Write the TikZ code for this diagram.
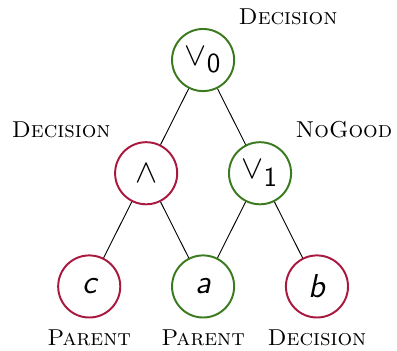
\documentclass[tikz,border=0pt]{standalone}
\usepackage{amsmath}
\usepackage{amssymb}
\usetikzlibrary{positioning}

\definecolor{orgreen}{HTML}{3B7A1E}
\definecolor{andred}{HTML}{A8183F}

\begin{document}
\begin{tikzpicture}[
    x=0.87cm, y=1.73cm,
    every node/.style={align=center},
    vertex/.style={circle, draw, line width=0.85pt, minimum size=27pt, inner sep=0pt, font=\Large\sffamily},
    ornode/.style={vertex, draw=orgreen},
    andnode/.style={vertex, draw=andred},
    tag/.style={font=\normalsize},
    every label/.style={tag},
    label distance=3pt,
    leaflabel/.style={label={[label distance=1.2pt]below:\textsc{#1}}}
]
\useasboundingbox (-88.3pt,-126.1pt) rectangle (84.3pt,26.1pt);

% Top
\node[ornode, label={above right:\textsc{Decision}}] (or0) at (0,0) {$\vee$\textsubscript{\large 0}};

% Middle row
\node[andnode, label={above left:\textsc{Decision}}] (and) at (-1,-1) {$\wedge$};
\node[ornode, label={above right:\textsc{NoGood}}] (or1) at (1,-1) {$\vee$\textsubscript{\large 1}};

% Leaves
\node[andnode, leaflabel=Parent] (c) at (-2,-2) {\itshape c};
\node[ornode, leaflabel=Parent] (a) at (0,-2) {\itshape a};
\node[andnode, leaflabel=Decision] (b) at (2,-2) {\itshape b};

% Edges
\draw (or0) -- (and);
\draw (or0) -- (or1);
\draw (and) -- (c);
\draw (and) -- (a);
\draw (or1) -- (a);
\draw (or1) -- (b);

\end{tikzpicture}
\end{document}
